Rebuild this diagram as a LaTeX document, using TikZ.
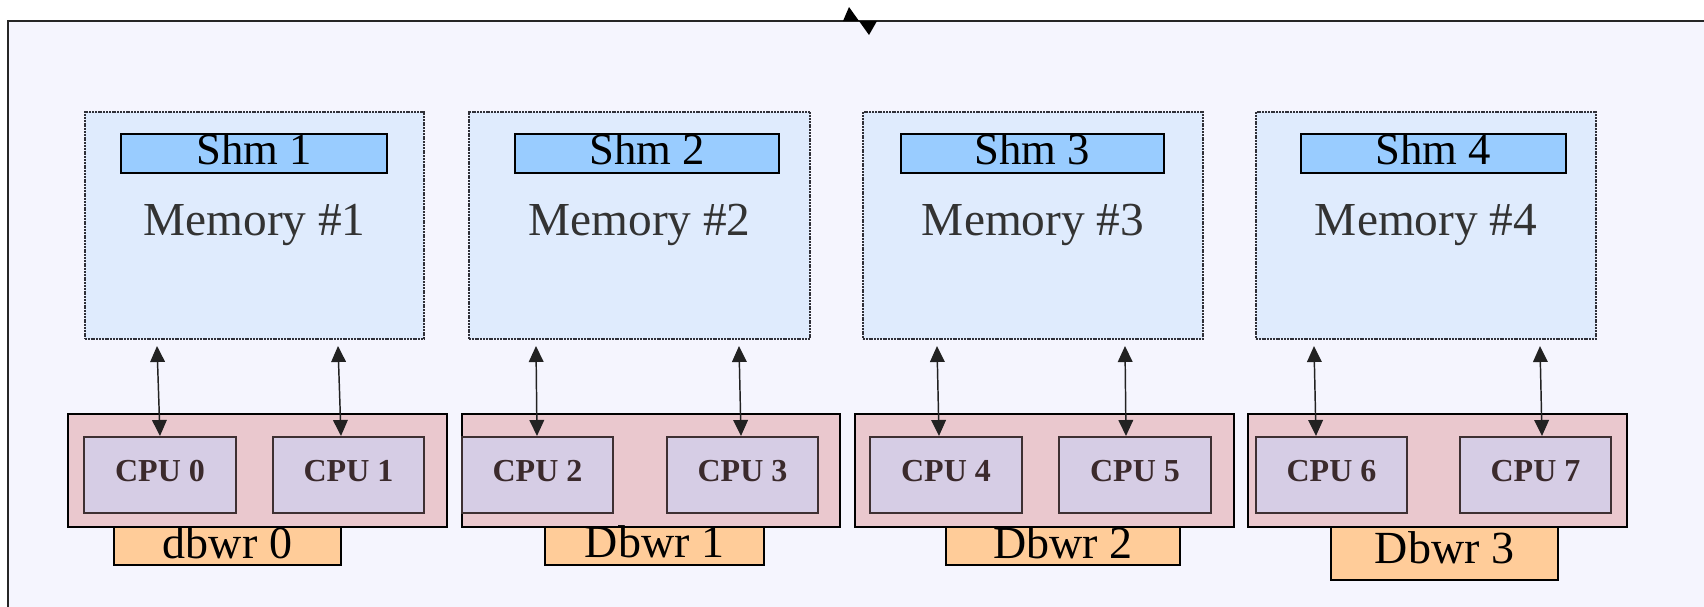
\documentclass[tikz,border=0pt]{standalone}
\usepackage{fontspec}
\setmainfont{Liberation Serif}
\usetikzlibrary{fit,arrows.meta}
\definecolor{bgc}{HTML}{F5F5FE}
\definecolor{memc}{HTML}{DFEBFD}
\definecolor{memline}{HTML}{303038}
\definecolor{shmc}{HTML}{99CCFF}
\definecolor{grpc}{HTML}{EAC8CE}
\definecolor{cpuc}{HTML}{D6CDE5}
\definecolor{cpuline}{HTML}{3E3032}
\definecolor{dbc}{HTML}{FFCC99}
\definecolor{cputxt}{HTML}{3B2A2C}
\definecolor{memtxt}{HTML}{333333}
\definecolor{arrc}{HTML}{222222}
\begin{document}
\begin{tikzpicture}[x=0.75pt,y=-0.75pt,
  region/.style={fit={#1}, inner sep=0pt, outer sep=0pt},
  framebox/.style={draw=black!85, line width=1.2pt, fill=bgc},
  membox/.style={fill=memc, draw=memline, line width=1.1pt, dash pattern=on 1.5pt off 0.6pt},
  shmbox/.style={fill=shmc, draw=black, line width=1.3pt},
  grpbox/.style={fill=grpc, draw=black, line width=1.3pt},
  cpubox/.style={fill=cpuc, draw=cpuline, line width=1.1pt},
  dbbox/.style={fill=dbc, draw=black, line width=1pt},
  memtext/.style={anchor=base, inner sep=0pt, text=memtxt, font=\fontsize{35.5}{40}\selectfont},
  shmtext/.style={anchor=base, inner sep=0pt, text=black, font=\fontsize{33.5}{40}\selectfont},
  cputext/.style={anchor=base, inner sep=0pt, text=cputxt, font=\fontsize{24}{28}\selectfont\bfseries},
  dbtext/.style={anchor=base, inner sep=0pt, text=black, font=\fontsize{34.5}{40}\selectfont},
  link/.style={draw=arrc, line width=1.1pt, {Triangle[length=12pt,width=11pt]}-{Triangle[length=12pt,width=11pt]}},
  marker/.style={fill=black, draw=none}
]
\useasboundingbox (0,0) rectangle (1704,607);
\fill[white] (0,0) rectangle (1704,607);
% outer frame
\node[framebox, region={(8,21) (1730,640)}] (frame) {};
\fill[marker] (843,21) -- (849,7) -- (859,21) -- cycle;
\fill[marker] (859,21) -- (869,35) -- (877,21) -- cycle;

% memory boxes
\node[membox, region={(85,112) (424,339)}] (mem1) {};
\node[membox, region={(469,112) (810,339)}] (mem2) {};
\node[membox, region={(863,112) (1203,339)}] (mem3) {};
\node[membox, region={(1256,112) (1596,339)}] (mem4) {};
\node[memtext] (mt1) at (mem1.center |- 0,235) {Memory \#1};
\node[memtext] (mt2) at (mem2.center |- 0,235) {Memory \#2};
\node[memtext] (mt3) at (mem3.center |- 0,235) {Memory \#3};
\node[memtext] (mt4) at (mem4.center |- 0,235) {Memory \#4};

% shm bars
\node[shmbox, region={(121,134) (387,173)}] (shm1) {};
\node[shmbox, region={(515,134) (779,173)}] (shm2) {};
\node[shmbox, region={(901,134) (1164,173)}] (shm3) {};
\node[shmbox, region={(1301,134) (1566,173)}] (shm4) {};
\node[shmtext] (st1) at (shm1.center |- 0,164) {Shm 1};
\node[shmtext] (st2) at (shm2.center |- 0,164) {Shm 2};
\node[shmtext] (st3) at (shm3.center |- 0,164) {Shm 3};
\node[shmtext] (st4) at (shm4.center |- 0,164) {Shm 4};

% CPU groups
\node[grpbox, region={(68,414) (447,527)}] (grp1) {};
\node[grpbox, region={(462,414) (840,527)}] (grp2) {};
\node[grpbox, region={(855,414) (1234,527)}] (grp3) {};
\node[grpbox, region={(1248,414) (1627,527)}] (grp4) {};

% CPUs
\node[cpubox, region={(84,437) (236,513)}] (cpu0) {};
\node[cpubox, region={(273,437) (424,513)}] (cpu1) {};
\node[cpubox, region={(462,437) (613,513)}] (cpu2) {};
\node[cpubox, region={(667,437) (818,513)}] (cpu3) {};
\node[cpubox, region={(870,437) (1022,513)}] (cpu4) {};
\node[cpubox, region={(1059,437) (1211,513)}] (cpu5) {};
\node[cpubox, region={(1256,437) (1407,513)}] (cpu6) {};
\node[cpubox, region={(1460,437) (1611,513)}] (cpu7) {};
\node[cputext] (ct0) at (cpu0.center |- 0,481) {CPU 0};
\node[cputext] (ct1) at (cpu1.center |- 0,481) {CPU 1};
\node[cputext] (ct2) at (cpu2.center |- 0,481) {CPU 2};
\node[cputext] (ct3) at (cpu3.center |- 0,481) {CPU 3};
\node[cputext] (ct4) at (cpu4.center |- 0,481) {CPU 4};
\node[cputext] (ct5) at (cpu5.center |- 0,481) {CPU 5};
\node[cputext] (ct6) at (cpu6.center |- 0,481) {CPU 6};
\node[cputext] (ct7) at (cpu7.center |- 0,481) {CPU 7};

% arrow end points
\coordinate (a0t) at (157,346);  \coordinate (a0b) at (160,436);
\coordinate (a1t) at (338,346);  \coordinate (a1b) at (341,436);
\coordinate (a2t) at (536,346);  \coordinate (a2b) at (537,436);
\coordinate (a3t) at (739,346);  \coordinate (a3b) at (741,436);
\coordinate (a4t) at (937,346);  \coordinate (a4b) at (939,436);
\coordinate (a5t) at (1125,346); \coordinate (a5b) at (1126,436);
\coordinate (a6t) at (1314,346); \coordinate (a6b) at (1316,436);
\coordinate (a7t) at (1540,346); \coordinate (a7b) at (1542,436);
\foreach \i in {0,...,7} { \draw[link] (a\i t) -- (a\i b); }

% dbwr boxes
\node[dbbox, region={(114,527) (341,565)}] (db0) {};
\node[dbbox, region={(545,527) (764,565)}] (db1) {};
\node[dbbox, region={(946,527) (1180,565)}] (db2) {};
\node[dbbox, region={(1331,527) (1558,580)}] (db3) {};
\node[dbtext] (dt0) at (db0.center |- 0,558) {dbwr 0};
\node[dbtext] (dt1) at (db1.center |- 0,557) {Dbwr 1};
\node[dbtext] (dt2) at (db2.center |- 0,558) {Dbwr 2};
\node[dbtext] (dt3) at (db3.center |- 0,563) {Dbwr 3};
\end{tikzpicture}
\end{document}
